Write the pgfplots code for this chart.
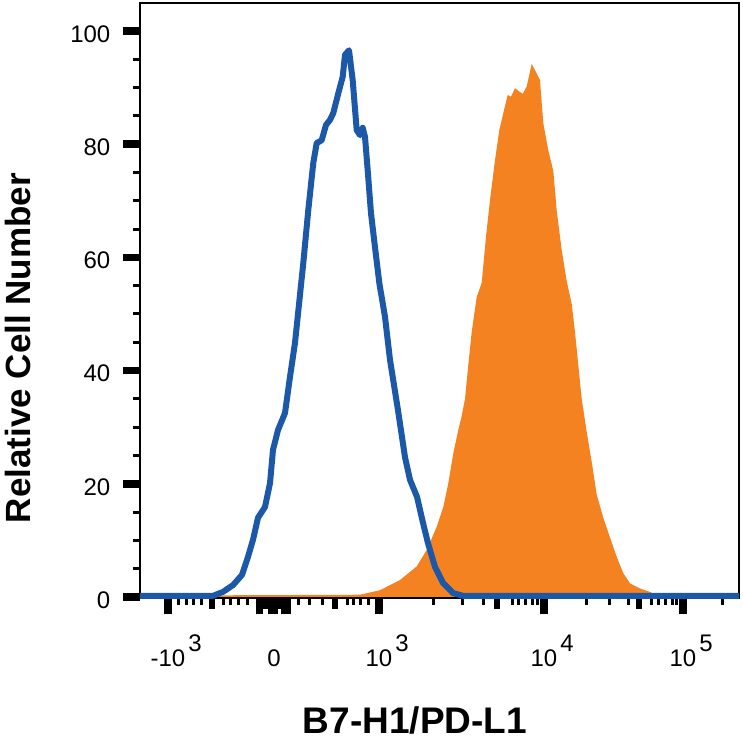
\documentclass[border=0pt]{standalone}
\usepackage{pgfplots}
\pgfplotsset{compat=1.18}
\usepackage{fontspec}
\setmainfont{Liberation Sans}

\definecolor{isoblue}{RGB}{28,88,168}
\definecolor{pdlorange}{RGB}{245,130,32}

% x values are display positions on the biexponential scale (axis runs 140..739)
\begin{document}
\begin{tikzpicture}
\useasboundingbox (-140pt,-147pt) rectangle (603pt,598pt);
\begin{axis}[
    at={(0,0)}, anchor=south west,
    scale only axis,
    width=599pt, height=595pt,
    xmin=140, xmax=739,
    ymin=-0.18, ymax=104.95,
    axis line style={line width=2pt},
    tick align=outside,
    tick pos=left,
    major tick length=16.5pt,
    minor tick length=7pt,
    major tick style={line width=7.5pt, black},
    minor tick style={line width=3pt, black},
    ytick={0,20,40,60,80,100},
    minor ytick={5,10,15,25,30,35,45,50,55,65,70,75,85,90,95},
    xtick={168,259.5,272,274,285,287,379,544,683},
    xticklabels={{-10\rlap{\kern3pt\raisebox{15pt}{3}}},{},{},{0},{},{},
        {10\rlap{\kern3pt\raisebox{15pt}{3}}},
        {10\rlap{\kern3pt\raisebox{15pt}{4}}},
        {10\rlap{\kern3pt\raisebox{15pt}{5}}}},
    minor xtick={179,187,194,202,224,231,239,248,299,310,323,347,353,360,368,
        433,462,483,512,518,525,532,537,586,609,628,651,658,665,672,676,722},
    extra x ticks={212,335,497,639,259,266,273,280,287},
    extra x tick labels={},
    extra x tick style={major tick length=11pt, major tick style={line width=6.5pt, black}},
    /pgf/number format/assume math mode=true,
    ticklabel style={font=\fontsize{24}{28}\selectfont},
    yticklabel style={inner sep=0pt, xshift=-13pt, yshift=-3pt},
    xticklabel style={anchor=base, inner sep=0pt, yshift=-52pt},
    xlabel={B7-H1/PD-L1},
    ylabel={Relative Cell Number},
    xlabel style={at={(rel axis cs:0.459,-0.2269)}, anchor=base, inner sep=0pt,
        font=\bfseries\fontsize{37}{40}\selectfont},
    ylabel style={at={(rel axis cs:-0.2254,0.42)}, anchor=north, rotate=0, inner sep=0pt,
        font=\bfseries\fontsize{35}{38}\selectfont},
    clip=true,
]
% B7-H1/PD-L1 antibody (filled)
\addplot[fill=pdlorange, draw=none] coordinates {
    (215,0) (225,0.3) (360,0.4) (380,1.2) (400,3.0) (416.7,5.4) (426.7,8.3)
    (436.7,12.4) (443.3,15.9) (448.3,20.1) (453.3,25.4) (458.3,29.5) (461.7,32.0)
    (465,35.0) (468.3,41.0) (471.7,46.8) (476.7,53.0) (481.7,55.5) (486,63.7)
    (490,70.1) (495,77.2) (499.3,82.5) (503.3,85.5) (507.7,88.7) (511,88.4)
    (515,89.9) (519.3,89.3) (522.7,88.9) (526.7,90.2) (531.7,94.2) (536.7,92.5)
    (540,91.3) (543.3,83.7) (548.3,78.9) (553.3,75.3) (556.7,68.3) (561.7,61.3)
    (566.7,55.8) (571.7,51.8) (575,46.8) (578.3,41.0) (581.7,35.0) (586.7,29.2)
    (591.7,23.9) (596.7,18.1) (603.3,14.0) (610,10.5) (616.7,7.1) (623.3,4.2)
    (630,2.4) (640,1.5) (650,0.9) (656.7,0.3) (665,0)
} \closedcycle;
% isotype control (open line)
\addplot[isoblue, line width=6pt, line join=round] coordinates {
    (140,0.2) (213,0.2) (223,0.9) (233,2.1) (242,3.9) (248,7.1) (253,10.1)
    (258,14.0) (265,15.9) (270,20.1) (273,26.0) (278,29.5) (285,32.5) (290,38.9)
    (295,44.9) (297.7,49.5) (303.3,59.0) (308.3,68.4) (313.3,76.7) (316.7,80.2)
    (321.7,80.7) (326,83.4) (330,84.3) (333.3,85.5) (338.3,89.0) (342.7,91.9)
    (345,95.8) (349,96.6) (352.7,91.3) (356.7,82.5) (360,81.6) (362.7,82.9)
    (365,81.3) (367.7,75.4) (371,67.8) (375,61.8) (379.3,55.5) (385,49.5)
    (390,41.9) (398,33.0) (405,24.7) (410,20.7) (417,17.7) (423,13.1) (428,9.5)
    (435,5.3) (443,2.5) (453,0.7) (463,0.2) (739,0.2)
};
\end{axis}
\end{tikzpicture}
\end{document}
